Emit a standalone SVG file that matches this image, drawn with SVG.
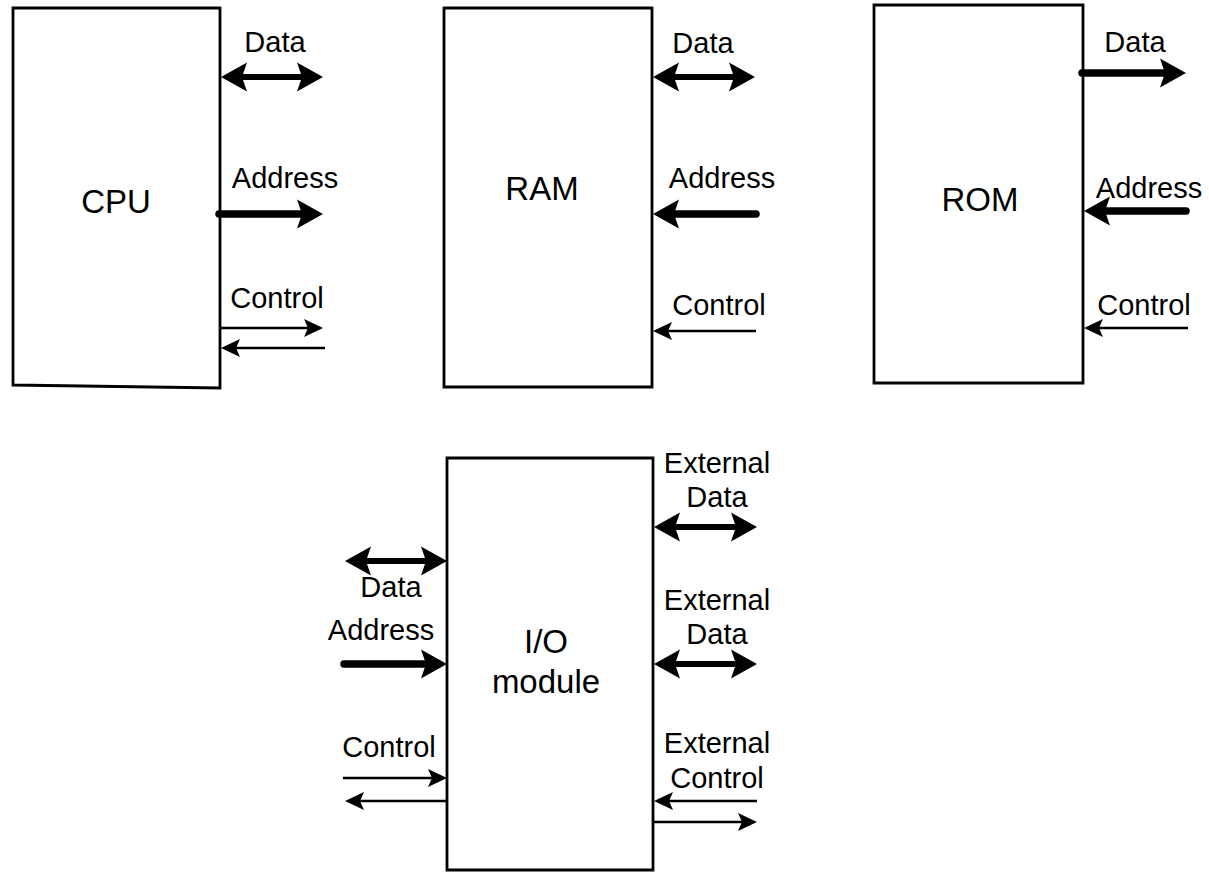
<svg xmlns="http://www.w3.org/2000/svg" width="1209" height="872" viewBox="0 0 1209 872">
  <style>
    .box { fill: #fff; stroke: #000; stroke-width: 2.8; stroke-linejoin: miter; }
    .title { font-family: "Liberation Sans", Arial, sans-serif; font-size: 33px; fill: #000; text-anchor: middle; }
    .lbl { font-family: "Liberation Sans", Arial, sans-serif; font-size: 29px; fill: #000; text-anchor: middle; }
    .bus { stroke: #000; stroke-width: 6; fill: none; }
    .addr { stroke: #000; stroke-width: 7.5; fill: none; stroke-linecap: round; }
    .sig { stroke: #000; stroke-width: 2.4; fill: none; }
  </style>
  <defs>
    <!-- heads point to +x with the tip at the origin -->
    <path id="hw" d="M0,0 L-26,-14.5 L-21,0 L-26,14.5 Z" fill="#000"/>
    <path id="hn" d="M0,0 L-19,-9 L-15,0 L-19,9 Z" fill="#000"/>
  </defs>

  <g id="cpu">
    <path class="box" d="M13,8 H220 V388 L13,385 Z"/>
    <text class="title" x="116" y="213">CPU</text>
    <text class="lbl" x="275" y="52">Data</text>
    <text class="lbl" x="285" y="188">Address</text>
    <text class="lbl" x="277" y="308">Control</text>
  </g>

  <g id="ram">
    <path class="box" d="M444,8 H652 V387 H444 Z"/>
    <text class="title" x="542" y="200">RAM</text>
    <text class="lbl" x="703" y="53">Data</text>
    <text class="lbl" x="722" y="188">Address</text>
    <text class="lbl" x="719" y="315">Control</text>
  </g>

  <g id="rom">
    <path class="box" d="M874,5 H1083 V383 H874 Z"/>
    <text class="title" x="980" y="211">ROM</text>
    <text class="lbl" x="1135" y="52">Data</text>
    <text class="lbl" x="1149" y="198">Address</text>
    <text class="lbl" x="1144" y="315">Control</text>
  </g>

  <g id="io">
    <path class="box" d="M447,458 H653 V870 H447 Z"/>
    <text class="title" x="546" y="653">I/O</text>
    <text class="title" x="546" y="693">module</text>
    <text class="lbl" x="391" y="597">Data</text>
    <text class="lbl" x="381" y="640">Address</text>
    <text class="lbl" x="389" y="757">Control</text>
    <text class="lbl" x="717" y="473">External</text>
    <text class="lbl" x="717" y="507">Data</text>
    <text class="lbl" x="717" y="610">External</text>
    <text class="lbl" x="717" y="644">Data</text>
    <text class="lbl" x="717" y="753">External</text>
    <text class="lbl" x="717" y="788">Control</text>
  </g>

  <g id="connectors">
    <!-- CPU -->
    <line class="bus" x1="238" y1="77" x2="306" y2="77"/>
    <use href="#hw" transform="translate(221,77) rotate(180)"/>
    <use href="#hw" transform="translate(323,77)"/>
    <line class="addr" x1="219" y1="214" x2="305" y2="214"/>
    <use href="#hw" transform="translate(323,214)"/>
    <line class="sig" x1="220" y1="328" x2="310" y2="328"/>
    <use href="#hn" transform="translate(323,328)"/>
    <line class="sig" x1="234" y1="348" x2="325" y2="348"/>
    <use href="#hn" transform="translate(221,348) rotate(180)"/>

    <!-- RAM -->
    <line class="bus" x1="670" y1="77" x2="737" y2="77"/>
    <use href="#hw" transform="translate(653,77) rotate(180)"/>
    <use href="#hw" transform="translate(755,77)"/>
    <line class="addr" x1="671" y1="214" x2="756" y2="214"/>
    <use href="#hw" transform="translate(653,214) rotate(180)"/>
    <line class="sig" x1="666" y1="331" x2="756" y2="331"/>
    <use href="#hn" transform="translate(653,331) rotate(180)"/>

    <!-- ROM -->
    <line class="addr" x1="1082" y1="73" x2="1167" y2="73"/>
    <use href="#hw" transform="translate(1186,73)"/>
    <line class="addr" x1="1102" y1="211" x2="1186" y2="211"/>
    <use href="#hw" transform="translate(1084,211) rotate(180)"/>
    <line class="sig" x1="1097" y1="328" x2="1188" y2="328"/>
    <use href="#hn" transform="translate(1084,328) rotate(180)"/>

    <!-- I/O module, processor side -->
    <line class="bus" x1="362" y1="561" x2="430" y2="561"/>
    <use href="#hw" transform="translate(345,561) rotate(180)"/>
    <use href="#hw" transform="translate(447,561)"/>
    <line class="addr" x1="344" y1="664" x2="429" y2="664"/>
    <use href="#hw" transform="translate(447,664)"/>
    <line class="sig" x1="343" y1="778" x2="434" y2="778"/>
    <use href="#hn" transform="translate(447,778)"/>
    <line class="sig" x1="358" y1="801" x2="447" y2="801"/>
    <use href="#hn" transform="translate(345,801) rotate(180)"/>

    <!-- I/O module, external side -->
    <line class="bus" x1="670" y1="527" x2="740" y2="527"/>
    <use href="#hw" transform="translate(654,527) rotate(180)"/>
    <use href="#hw" transform="translate(757,527)"/>
    <line class="bus" x1="670" y1="664" x2="740" y2="664"/>
    <use href="#hw" transform="translate(654,664) rotate(180)"/>
    <use href="#hw" transform="translate(757,664)"/>
    <line class="sig" x1="666" y1="801" x2="757" y2="801"/>
    <use href="#hn" transform="translate(654,801) rotate(180)"/>
    <line class="sig" x1="653" y1="822" x2="744" y2="822"/>
    <use href="#hn" transform="translate(757,822)"/>
  </g>
</svg>
